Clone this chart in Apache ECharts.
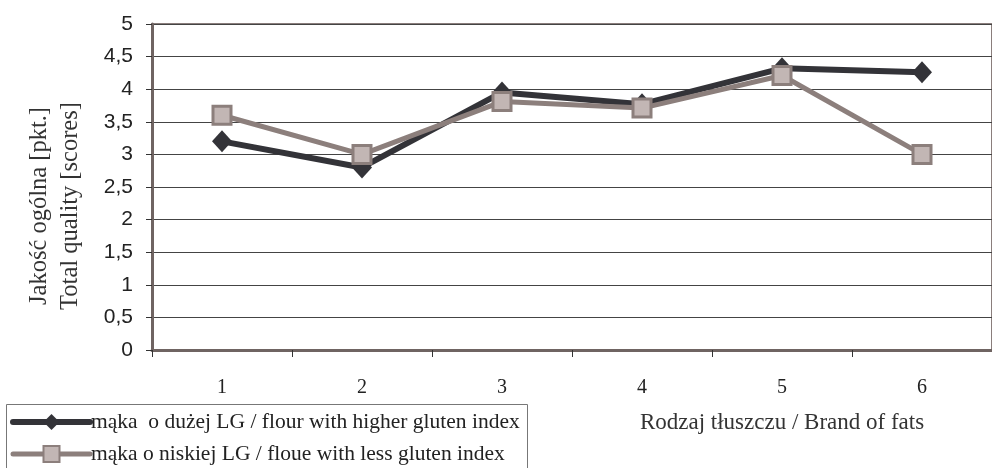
<!DOCTYPE html>
<html>
<head>
<meta charset="utf-8">
<script src="https://cdn.jsdelivr.net/npm/echarts@6/dist/echarts.min.js"></script>
<style>
  html, body { margin: 0; padding: 0; background: #fff; overflow: hidden; }
  #chart { width: 992px; height: 468px; }
</style>
</head>
<body>
<div id="chart"></div>
<script>
// Fat brands on the category axis
const categories = ['1', '2', '3', '4', '5', '6'];
// Total quality scores per flour type
const highGluten = [3.2, 2.8, 3.95, 3.77, 4.32, 4.26];
const lowGluten = [3.6, 3.0, 3.81, 3.71, 4.21, 3.0];
const seriesNames = [
  'mąka  o dużej LG / flour with higher gluten index',
  'mąka o niskiej LG / floue with less gluten index'
];
const yAxisTitle = ['Jakość ogólna [pkt.]', 'Total quality [scores]'];
const xAxisTitle = 'Rodzaj tłuszczu / Brand of fats';

const serif = '"Liberation Serif", "Times New Roman", serif';
const sans = '"Liberation Sans", Arial, sans-serif';

const chart = echarts.init(document.getElementById('chart'), null, { renderer: 'canvas' });

chart.setOption({
  animation: false,
  backgroundColor: '#ffffff',
  grid: {
    left: 152, top: 24, height: 326, width: 850,
    show: true, borderColor: '#8a7e7c', borderWidth: 2, backgroundColor: 'transparent'
  },
  legend: {
    orient: 'vertical',
    left: 10, top: 411,
    padding: 0,
    itemGap: 10,
    itemWidth: 77,
    itemHeight: 20,
    lineStyle: { width: 'inherit', cap: 'round' },
    textStyle: { fontFamily: serif, fontSize: 21.5, color: '#222', padding: [0, 0, 0, -4] },
    data: seriesNames
  },
  xAxis: {
    type: 'category',
    data: categories,
    boundaryGap: true,
    axisLine: { lineStyle: { color: '#6f6462', width: 3 } },
    axisTick: { show: true, length: 7, lineStyle: { color: '#333', width: 1 } },
    axisLabel: { fontFamily: serif, fontSize: 20, color: '#222', margin: 28 },
    splitLine: { show: false }
  },
  yAxis: {
    type: 'value',
    min: 0, max: 5, interval: 0.5,
    axisLine: { show: true, lineStyle: { color: '#6f6462', width: 3 } },
    axisTick: { show: true, length: 6, lineStyle: { color: '#333', width: 1 } },
    axisLabel: {
      fontFamily: sans, fontSize: 21, color: '#222', margin: 19,
      formatter: v => String(v).replace('.', ',')
    },
    splitLine: { show: true, lineStyle: { color: '#444', width: 1 } }
  },
  graphic: [
    {
      // legend frame, running past the bottom edge
      type: 'rect',
      shape: { x: 6.5, y: 404.5, width: 521, height: 80 },
      style: { fill: 'none', stroke: '#777', lineWidth: 1 },
      z: 0
    },
    {
      type: 'text',
      x: 55, y: 206,
      rotation: Math.PI / 2,
      style: {
        text: yAxisTitle.join('\n'),
        fontFamily: serif, fontSize: 24.5, fill: '#333',
        align: 'center', verticalAlign: 'middle', lineHeight: 31
      }
    },
    {
      type: 'text',
      x: 782, y: 423,
      style: {
        text: xAxisTitle,
        fontFamily: serif, fontSize: 23, fill: '#333',
        align: 'center', verticalAlign: 'middle'
      }
    }
  ],
  series: [
    {
      name: seriesNames[0],
      type: 'line',
      data: highGluten,
      symbol: 'diamond',
      symbolSize: [20, 22],
      lineStyle: { color: '#333338', width: 6 },
      itemStyle: { color: '#333338', borderWidth: 0 },
      z: 3
    },
    {
      name: seriesNames[1],
      type: 'line',
      data: lowGluten,
      symbol: 'rect',
      symbolSize: 18,
      lineStyle: { color: '#8c7f7c', width: 5 },
      itemStyle: { color: '#c2b6b4', borderColor: '#8c7f7c', borderWidth: 3 },
      z: 4
    }
  ]
});
</script>
</body>
</html>
